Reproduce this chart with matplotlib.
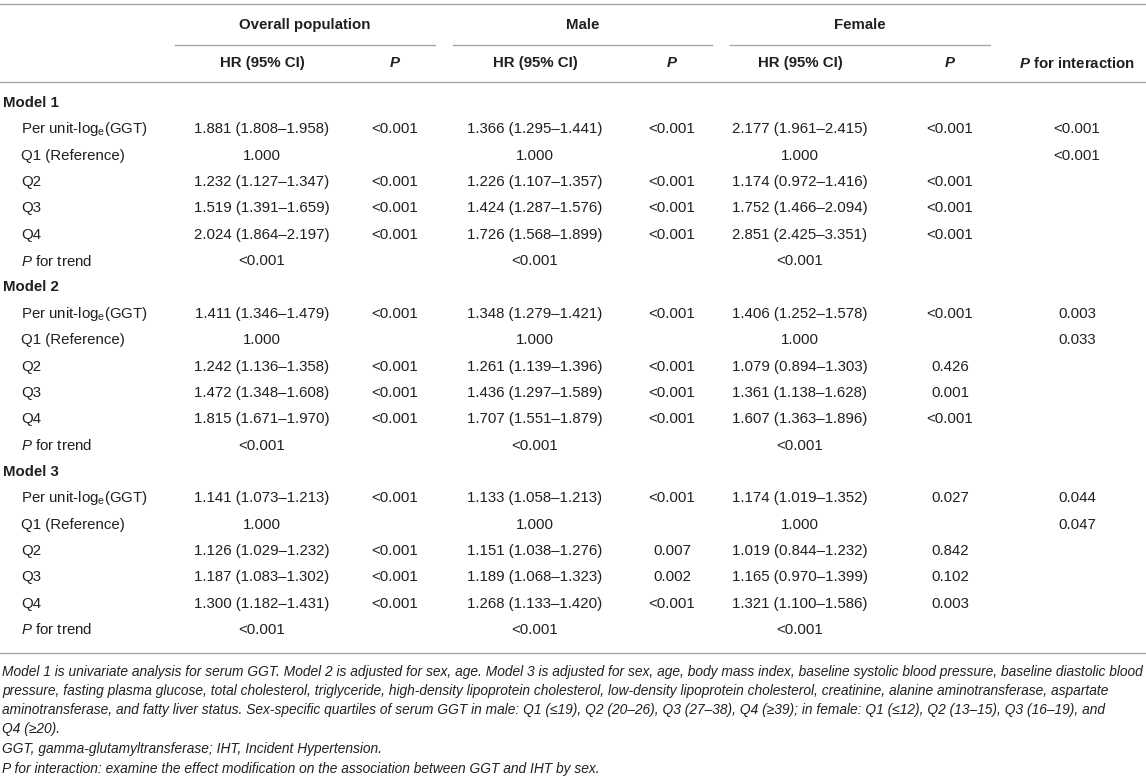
import matplotlib
matplotlib.use('Agg')
import matplotlib.pyplot as plt

plt.rcParams['font.family'] = ['Liberation Sans', 'DejaVu Sans']
plt.rcParams['mathtext.fontset'] = 'custom'
plt.rcParams['mathtext.rm'] = 'Liberation Sans'
plt.rcParams['mathtext.it'] = 'Liberation Sans:italic'
plt.rcParams['mathtext.bf'] = 'Liberation Sans:bold'
plt.rcParams['mathtext.bfit'] = 'Liberation Sans:italic:bold'

# ---- table content ----
models = ['Model 1', 'Model 2', 'Model 3']
row_labels = ['Per unit-log$_\\mathregular{e}$(GGT)', 'Q1 (Reference)', 'Q2', 'Q3', 'Q4',
              '$\\mathit{P}$ for trend']

group_names = ['Overall population', 'Male', 'Female']
sub_headers = ['HR (95% CI)', '$\\mathbfit{P}$', 'HR (95% CI)', '$\\mathbfit{P}$',
               'HR (95% CI)', '$\\mathbfit{P}$', '$\\mathbfit{P}$ for interaction']

overall_hr = [
    ['1.881 (1.808–1.958)', '1.000', '1.232 (1.127–1.347)', '1.519 (1.391–1.659)', '2.024 (1.864–2.197)', '<0.001'],
    ['1.411 (1.346–1.479)', '1.000', '1.242 (1.136–1.358)', '1.472 (1.348–1.608)', '1.815 (1.671–1.970)', '<0.001'],
    ['1.141 (1.073–1.213)', '1.000', '1.126 (1.029–1.232)', '1.187 (1.083–1.302)', '1.300 (1.182–1.431)', '<0.001'],
]
overall_p = [
    ['<0.001', '', '<0.001', '<0.001', '<0.001', ''],
    ['<0.001', '', '<0.001', '<0.001', '<0.001', ''],
    ['<0.001', '', '<0.001', '<0.001', '<0.001', ''],
]
male_hr = [
    ['1.366 (1.295–1.441)', '1.000', '1.226 (1.107–1.357)', '1.424 (1.287–1.576)', '1.726 (1.568–1.899)', '<0.001'],
    ['1.348 (1.279–1.421)', '1.000', '1.261 (1.139–1.396)', '1.436 (1.297–1.589)', '1.707 (1.551–1.879)', '<0.001'],
    ['1.133 (1.058–1.213)', '1.000', '1.151 (1.038–1.276)', '1.189 (1.068–1.323)', '1.268 (1.133–1.420)', '<0.001'],
]
male_p = [
    ['<0.001', '', '<0.001', '<0.001', '<0.001', ''],
    ['<0.001', '', '<0.001', '<0.001', '<0.001', ''],
    ['<0.001', '', '0.007', '0.002', '<0.001', ''],
]
female_hr = [
    ['2.177 (1.961–2.415)', '1.000', '1.174 (0.972–1.416)', '1.752 (1.466–2.094)', '2.851 (2.425–3.351)', '<0.001'],
    ['1.406 (1.252–1.578)', '1.000', '1.079 (0.894–1.303)', '1.361 (1.138–1.628)', '1.607 (1.363–1.896)', '<0.001'],
    ['1.174 (1.019–1.352)', '1.000', '1.019 (0.844–1.232)', '1.165 (0.970–1.399)', '1.321 (1.100–1.586)', '<0.001'],
]
female_p = [
    ['<0.001', '', '<0.001', '<0.001', '<0.001', ''],
    ['<0.001', '', '0.426', '0.001', '<0.001', ''],
    ['0.027', '', '0.842', '0.102', '0.003', ''],
]
interaction_p = [
    ['<0.001', '<0.001', '', '', '', ''],
    ['0.003', '0.033', '', '', '', ''],
    ['0.044', '0.047', '', '', '', ''],
]

footnotes = [
    'Model 1 is univariate analysis for serum GGT. Model 2 is adjusted for sex, age. Model 3 is adjusted for sex, age, body mass index, baseline systolic blood pressure, baseline diastolic blood',
    'pressure, fasting plasma glucose, total cholesterol, triglyceride, high-density lipoprotein cholesterol, low-density lipoprotein cholesterol, creatinine, alanine aminotransferase, aspartate',
    'aminotransferase, and fatty liver status. Sex-specific quartiles of serum GGT in male: Q1 (≤19), Q2 (20–26), Q3 (27–38), Q4 (≥39); in female: Q1 (≤12), Q2 (13–15), Q3 (16–19), and',
    'Q4 (≥20).',
    'GGT, gamma-glutamyltransferase; IHT, Incident Hypertension.',
    'P for interaction: examine the effect modification on the association between GGT and IHT by sex.',
]

# ---- layout (pixel units) ----
W, H = 1146, 784
txt = '#231f20'
rule = '#a8a8a8'
fs = 10.8
col_x = [262, 395, 535, 672, 800, 950, 1077]
group_lines = [(175, 435), (453, 712), (730, 990)]
row0, dy = 103, 26.35

fig = plt.figure(figsize=(W / 100, H / 100), dpi=100)
ax = fig.add_axes([0, 0, 1, 1])
ax.set_xlim(0, W)
ax.set_ylim(H, 0)
ax.axis('off')

# rules
ax.plot([0, W], [4, 4], color=rule, lw=1.0)
ax.plot([0, W], [82, 82], color=rule, lw=1.0)
for x0, x1 in group_lines:
    ax.plot([x0, x1], [45, 45], color=rule, lw=1.0)

# headers
for name, (x0, x1) in zip(group_names, group_lines):
    ax.text((x0 + x1) / 2, 25, name, ha='center', va='center', fontsize=fs, fontweight='bold', color=txt)
for h, cx in zip(sub_headers, col_x):
    ax.text(cx, 63, h, ha='center', va='center', fontsize=fs, fontweight='bold', color=txt)

# body
columns = [overall_hr, overall_p, male_hr, male_p, female_hr, female_p, interaction_p]
r = 0
for m, model in enumerate(models):
    y = row0 + r * dy
    ax.text(3, y, model, ha='left', va='center', fontsize=fs, fontweight='bold', color=txt)
    r += 1
    for i, lab in enumerate(row_labels):
        y = row0 + r * dy
        ax.text(21, y, lab, ha='left', va='center', fontsize=fs, color=txt)
        for col, cx in zip(columns, col_x):
            val = col[m][i]
            if val:
                ax.text(cx, y, val, ha='center', va='center', fontsize=fs, color=txt)
        r += 1

bottom = row0 + (r - 1) * dy + 23
ax.plot([0, W], [bottom, bottom], color=rule, lw=1.0)

# footnotes, sized to fill the width like the original
fig.canvas.draw()
renderer = fig.canvas.get_renderer()
probe = ax.text(0, 0, footnotes[0], fontsize=fs, fontstyle='italic')
wpx = probe.get_window_extent(renderer).width
probe.remove()
fn_fs = fs * 1138 / wpx

fn_y = [bottom + 19, bottom + 38, bottom + 57, bottom + 76, bottom + 96, bottom + 116]
for line, y in zip(footnotes, fn_y):
    ax.text(2, y, line, ha='left', va='center', fontsize=fn_fs, fontstyle='italic', color=txt)

fig.savefig('out.png', dpi=100)
